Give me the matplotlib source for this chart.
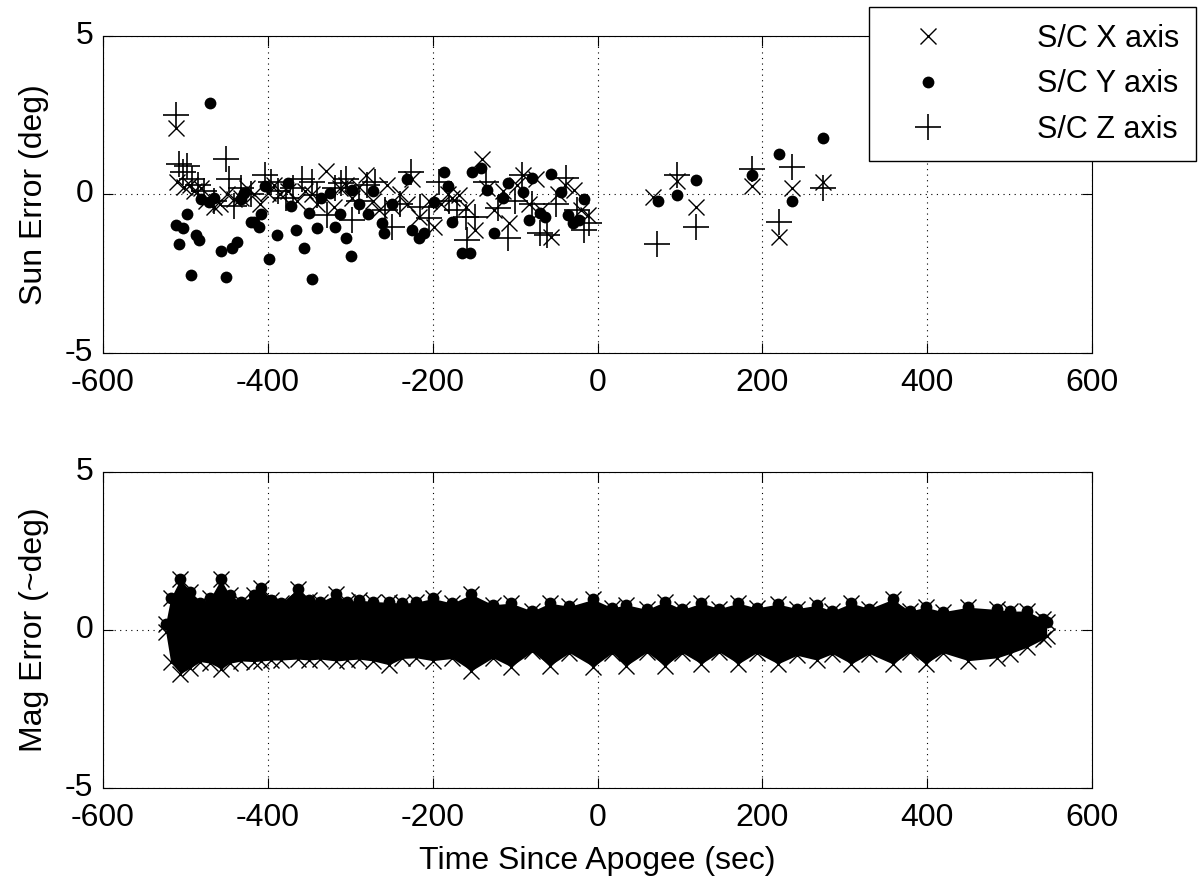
import numpy as np
import matplotlib
matplotlib.use("Agg")
import matplotlib.pyplot as plt

plt.rcParams['font.family'] = ['Liberation Sans', 'DejaVu Sans']
plt.rcParams['axes.unicode_minus'] = False

# --- Sun sensor error, S/C X axis ---
sun_x_t = [-512, -510, -502, -495, -490, -481, -475, -465, -458, -450,
           -441, -432, -425, -417, -410, -400, -392, -385, -376, -365,
           -355, -347, -340, -329, -320, -312, -305, -298, -290, -281,
           -272, -265, -256, -249, -240, -231, -225, -216, -204, -198,
           -190, -182, -176, -168, -160, -149, -140, -134, -125, -115,
           -107, -98, -90, -83, -75, -68, -56, -48, -40, -28,
           -20, -12, 67, 96, 120, 188, 220, 236, 273]
sun_x_v = [2.1, 0.38, 0.25, 0.3, 0.1, 0.19, -0.2, -0.41, -0.3, 0.0,
           -0.15, -0.1, 0.2, 0.0, -0.3, 0.05, 0.3, 0.0, 0.1, -0.2,
           0.1, 0.0, -0.3, 0.75, -0.4, 0.2, 0.3, -0.1, 0.25, 0.6,
           -0.2, -0.5, 0.3, -0.4, 0.0, -0.3, 0.5, -0.7, -0.2, -1.04,
           -0.3, 0.0, -0.1, -0.03, -0.4, -1.13, 1.13, 0.2, -0.5, 0.1,
           -0.9, 0.3, 0.6, -0.3, 0.5, -0.5, -1.35, 0.0, 0.3, 0.13,
           -0.5, -0.66, -0.09, 0.44, -0.38, 0.28, -1.35, 0.19, 0.38]

# --- Sun sensor error, S/C Y axis ---
sun_y_t = [-512, -508, -503, -498, -493, -487, -484, -481, -471, -470,
           -465, -457, -451, -443, -437, -432, -429, -420, -417, -411,
           -408, -404, -398, -389, -376, -372, -366, -356, -350, -346,
           -340, -335, -325, -319, -313, -305, -299, -298, -290, -279,
           -272, -261, -259, -249, -231, -225, -216, -210, -198, -186,
           -182, -176, -164, -155, -152, -141, -134, -125, -115, -109,
           -91, -83, -79, -70, -64, -56, -44, -36, -30, -22,
           -16, 73, 96, 120, 188, 220, 236, 273]
sun_y_v = [-0.97, -1.55, -1.07, -0.63, -2.55, -1.29, -1.45, -0.13, -0.25, 2.9,
           -0.1, -1.79, -2.6, -1.7, -1.5, -0.13, 0.06, -0.88, -0.88, -1.04,
           -0.6, 0.28, -2.04, -1.29, 0.35, -0.35, -1.13, -1.7, -0.57, -2.67,
           -1.07, -0.1, 0.05, -1.04, -0.6, -1.38, -1.95, 0.13, -0.3, -0.6,
           0.1, -0.9, -1.2, -0.3, 0.5, -1.13, -1.38, -1.2, -0.25, 0.7,
           0.28, -0.88, -1.83, -1.83, 0.7, 0.85, 0.13, -1.23, -0.1, 0.35,
           0.07, -0.82, 0.53, -0.57, -0.72, 0.66, 0.07, -0.66, -0.9, -0.82,
           -0.13, -0.22, -0.03, 0.47, 0.63, 1.29, -0.19, 1.79]

# --- Sun sensor error, S/C Z axis ---
sun_z_t = [-512, -508, -503, -498, -492, -485, -477, -465, -451, -447,
           -441, -432, -420, -404, -396, -388, -378, -370, -359, -347,
           -340, -328, -318, -311, -305, -298, -290, -280, -270, -258,
           -249, -240, -226, -215, -204, -192, -180, -170, -159, -158,
           -149, -135, -121, -109, -100, -92, -80, -70, -61, -50,
           -38, -25, -16, -10, 72, 96, 120, 188, 220, 236,
           273]
sun_z_v = [2.5, 0.97, 0.7, 0.9, 0.5, 0.3, 0.1, -0.2, 1.13, 0.5,
           -0.35, 0.19, 0.0, 0.6, 0.38, 0.1, -0.1, 0.2, 0.5, 0.38,
           -0.03, -0.66, 0.2, 0.35, 0.5, -0.82, -0.2, 0.3, 0.4, -0.5,
           -1.04, -0.3, 0.7, -0.4, -0.75, 0.38, -0.2, -0.5, -0.72, -1.45,
           -0.7, 0.38, -0.44, -1.38, -0.2, 0.6, -0.3, -1.23, -1.29, -0.3,
           0.53, -0.5, -1.13, -0.9, -1.57, 0.63, -1.04, 0.82, -0.88, 0.88,
           0.19]

# --- Magnetometer error: upper / lower envelope of the dense band ---
mag_t = [-524, -518, -506, -494, -482, -470, -457, -446, -432, -417,
         -408, -396, -384, -364, -350, -337, -317, -304, -290, -272,
         -253, -237, -220, -200, -176, -153, -127, -105, -79, -58,
         -34, -5, 18, 35, 60, 82, 103, 126, 148, 171,
         193, 219, 242, 266, 285, 308, 330, 358, 379, 398,
         419, 450, 485, 500, 521, 540, 545]
mag_hi = [0.2, 1.0, 1.62, 1.2, 0.85, 1.0, 1.6, 1.1, 0.88, 1.1,
          1.32, 0.95, 0.85, 1.3, 0.95, 0.88, 1.13, 0.9, 0.95, 0.9,
          0.88, 0.85, 0.88, 1.0, 0.85, 1.13, 0.8, 0.85, 0.6, 0.85,
          0.75, 0.97, 0.7, 0.8, 0.65, 0.9, 0.65, 0.85, 0.68, 0.85,
          0.7, 0.82, 0.68, 0.78, 0.6, 0.85, 0.68, 0.97, 0.6, 0.72,
          0.58, 0.72, 0.65, 0.6, 0.6, 0.35, 0.25]
mag_lo = [-0.05, -1.0, -1.38, -1.2, -1.0, -1.05, -1.22, -1.05, -0.98, -1.0,
          -0.98, -0.95, -0.95, -0.92, -0.95, -0.92, -0.98, -0.95, -0.92, -0.98,
          -1.1, -0.9, -0.88, -0.97, -0.9, -1.29, -0.88, -1.16, -0.68, -1.13,
          -0.72, -1.16, -0.72, -1.13, -0.7, -1.13, -0.72, -1.07, -0.7, -1.07,
          -0.72, -1.07, -0.8, -0.95, -0.75, -1.07, -0.75, -1.07, -0.7, -1.07,
          -0.72, -0.97, -0.88, -0.75, -0.55, -0.3, -0.2]

xticks = [-600, -400, -200, 0, 200, 400, 600]
yticks = [-5, 0, 5]
FS = 23

fig = plt.figure(figsize=(12.02, 8.93), dpi=100)
ax1 = fig.add_axes([0.0857, 0.6047, 0.8228, 0.355])
ax2 = fig.add_axes([0.0857, 0.1176, 0.8228, 0.3538])

# top panel: sun error
ax1.plot(sun_x_t, sun_x_v, 'x', color='k', ms=12, mew=1.0, label='S/C X axis')
ax1.plot(sun_y_t, sun_y_v, 'o', color='k', ms=8.5, mew=0, label='S/C Y axis')
ax1.plot(sun_z_t, sun_z_v, '+', color='k', ms=19, mew=1.2, label='S/C Z axis')
ax1.set_ylabel('Sun Error (deg)', fontsize=FS)

# bottom panel: mag error
ax2.fill_between(mag_t, mag_lo, mag_hi, color='k', lw=0, zorder=2)
ax2.plot(mag_t, mag_hi, 'x', color='k', ms=12, mew=1.0)
ax2.plot(mag_t, mag_hi, 'o', color='k', ms=8.5, mew=0)
ax2.plot(mag_t, mag_lo, 'x', color='k', ms=12, mew=1.0)
ax2.set_ylabel('Mag Error (~deg)', fontsize=FS)
ax2.set_xlabel('Time Since Apogee (sec)', fontsize=FS)

for ax in (ax1, ax2):
    ax.set_xlim(-600, 600)
    ax.set_ylim(-5, 5)
    ax.set_xticks(xticks)
    ax.set_yticks(yticks)
    ax.grid(True, linestyle=(0, (1, 4)), color='k', linewidth=0.8)
    ax.tick_params(direction='in', top=True, right=True, length=7,
                   width=0.8, labelsize=FS)
    ax.tick_params(axis='x', pad=11)
    ax.tick_params(axis='y', pad=7)
    for lab in ax.get_yticklabels():
        lab.set_va('center')
    for s in ax.spines.values():
        s.set_linewidth(0.8)
    ax.yaxis.set_label_coords(-0.055, 0.5)
ax2.xaxis.set_label_coords(0.5, -0.185)

fig.legend(*ax1.get_legend_handles_labels(), loc='upper right',
           bbox_to_anchor=(0.995, 0.992), fontsize=22, frameon=True,
           fancybox=False, edgecolor='k', framealpha=1, borderpad=0.55,
           handlelength=2.75, handletextpad=2.2, labelspacing=0.5,
           borderaxespad=0)

fig.savefig('out.png', dpi=100)
